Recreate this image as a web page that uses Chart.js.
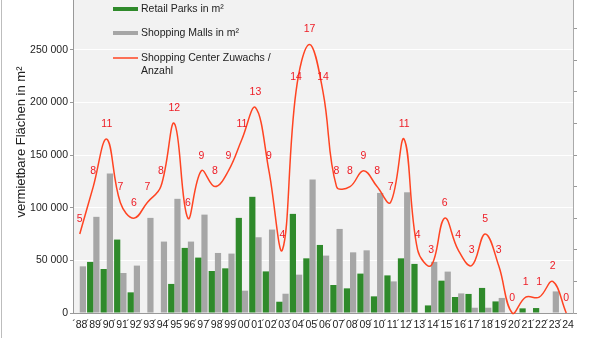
<!DOCTYPE html>
<html>
<head>
<meta charset="utf-8">
<script src="https://cdn.jsdelivr.net/npm/chart.js@4/dist/chart.umd.min.js"></script>
<style>
  html, body { margin: 0; padding: 0; background: #fff; }
  #wrap { position: relative; width: 600px; height: 338px; overflow: hidden; }
  #chart { position: absolute; left: 0; top: -3px; }
</style>
</head>
<body>
<div id="wrap"><canvas id="chart" width="600" height="341"></canvas></div>
<script>
// years 1988 - 2024
const years = ["´88","´89","´90","´91","´92","´93","´94","´95","´96","´97","´98","´99",
  "´00","´01","´02","´03","´04","´05","´06","´07","´08","´09","´10","´11","´12",
  "´13","´14","´15","´16","´17","´18","´19","´20","´21","´22","´23","´24"];

const retailParks = [0, 48500, 41800, 69700, 19600, 0, 0, 27600, 61800, 52600, 39900, 42400,
  90300, 110300, 39500, 10700, 94100, 51900, 64600, 26600, 23400, 37400, 15800, 35700, 51900,
  46600, 7200, 30700, 15200, 18100, 23800, 11000, 0, 4400, 4700, 0, 0];

const shoppingMalls = [44300, 91300, 132400, 38000, 45000, 90300, 67800, 108400, 67800, 93400, 57000, 56400,
  21200, 71900, 79200, 18300, 36400, 126700, 54500, 79800, 57600, 59500, 114000, 30000, 114600,
  0, 48500, 39300, 18600, 5000, 5000, 14300, 0, 0, 0, 20500, 0];

const centerCount = [5, 8, 11, 7, 6, 7, 8, 12, 6, 9, 8, 9,
  11, 13, 9, 4, 14, 17, 14, 8, 8, 9, 8, 7, 11,
  4, 3, 6, 4, 3, 5, 3, 0, 1, 1, 2, 0];

const leftTicks = [0, 50000, 100000, 150000, 200000, 250000, 300000];

const SHIFT = 3; // canvas sits 3px above the page
const FONT = '"Liberation Sans", Arial, sans-serif';

function fmt(v) {
  return String(v).replace(/\B(?=(\d{3})+(?!\d))/g, ' ');
}

function noPad(scale) {
  scale.paddingTop = 0;
  scale.paddingBottom = 0;
  scale.paddingLeft = 0;
  scale.paddingRight = 0;
}

const decor = {
  id: 'decor',
  beforeDraw(chart) {
    const { ctx, chartArea: a } = chart;
    ctx.save();
    ctx.fillStyle = '#f2f2f2';
    ctx.fillRect(a.left, a.top, a.right - a.left, a.bottom - a.top);
    ctx.strokeStyle = '#bdbdbd';
    ctx.lineWidth = 1;
    ctx.beginPath();
    ctx.moveTo(1.5, 0);
    ctx.lineTo(1.5, chart.height);
    ctx.stroke();
    ctx.restore();
  },
  afterDatasetsDraw(chart) {
    const ctx = chart.ctx;
    const meta = chart.getDatasetMeta(2);
    ctx.save();
    ctx.font = '10.5px ' + FONT;
    ctx.fillStyle = '#ee1c25';
    ctx.textAlign = 'center';
    ctx.textBaseline = 'middle';
    meta.data.forEach((pt, i) => {
      ctx.fillText(String(centerCount[i]), pt.x, pt.y - 15);
    });
    ctx.restore();
  },
  afterDraw(chart) {
    const ctx = chart.ctx;
    ctx.save();
    // y axis title
    ctx.font = '13px ' + FONT;
    ctx.fillStyle = '#222';
    ctx.textAlign = 'center';
    ctx.textBaseline = 'middle';
    ctx.translate(21, 142 + SHIFT);
    ctx.rotate(-Math.PI / 2);
    ctx.fillText('vermietbare Flächen in m²', 0, 0);
    ctx.restore();

    // legend
    ctx.save();
    ctx.font = '10.5px ' + FONT;
    ctx.textAlign = 'left';
    ctx.textBaseline = 'middle';
    ctx.fillStyle = '#2f8a2b';
    ctx.fillRect(113, 7 + SHIFT, 25, 4);
    ctx.fillStyle = '#a6a6a6';
    ctx.fillRect(113, 31 + SHIFT, 25, 4);
    ctx.strokeStyle = '#ff4422';
    ctx.lineWidth = 1.5;
    ctx.beginPath();
    ctx.moveTo(113, 58 + SHIFT);
    ctx.lineTo(138, 58 + SHIFT);
    ctx.stroke();
    ctx.fillStyle = '#222';
    ctx.fillText('Retail Parks in m²', 141, 9 + SHIFT);
    ctx.fillText('Shopping Malls in m²', 141, 33 + SHIFT);
    ctx.fillText('Shopping Center Zuwachs /', 141, 58 + SHIFT);
    ctx.fillText('Anzahl', 141, 71 + SHIFT);
    ctx.restore();
  }
};

new Chart(document.getElementById('chart'), {
  type: 'bar',
  data: {
    labels: years,
    datasets: [
      {
        label: 'Retail Parks in m²',
        data: retailParks,
        backgroundColor: '#2f8a2b',
        categoryPercentage: 0.92,
        barPercentage: 1.0,
        yAxisID: 'y',
        order: 2
      },
      {
        label: 'Shopping Malls in m²',
        data: shoppingMalls,
        backgroundColor: '#a6a6a6',
        categoryPercentage: 0.92,
        barPercentage: 1.0,
        yAxisID: 'y',
        order: 3
      },
      {
        type: 'line',
        label: 'Shopping Center Zuwachs / Anzahl',
        data: centerCount,
        borderColor: '#ff4422',
        borderWidth: 1.5,
        pointRadius: 0,
        tension: 0.4,
        capBezierPoints: false,
        clip: false,
        fill: false,
        yAxisID: 'y1',
        order: 1
      }
    ]
  },
  options: {
    responsive: false,
    animation: false,
    devicePixelRatio: 1,
    layout: { padding: 0 },
    plugins: {
      legend: { display: false },
      tooltip: { enabled: false }
    },
    scales: {
      x: {
        grid: { display: false, drawTicks: false },
        border: { color: '#999' },
        ticks: {
          autoSkip: false, maxRotation: 0, minRotation: 0, padding: 6,
          color: '#222', font: { family: FONT, size: 10.5 }
        },
        afterFit(scale) { scale.height = 25; noPad(scale); }
      },
      y: {
        position: 'left',
        min: leftTicks[0],
        max: leftTicks[leftTicks.length - 1],
        afterBuildTicks(scale) { scale.ticks = leftTicks.map(v => ({ value: v })); },
        grid: { color: '#ffffff', lineWidth: 1, tickColor: '#999', tickLength: 3 },
        border: { color: '#999' },
        ticks: {
          padding: 2, color: '#222', font: { family: FONT, size: 10.5 },
          callback: v => fmt(v)
        },
        afterFit(scale) { scale.width = 73; noPad(scale); }
      },
      y1: {
        position: 'right',
        min: 0,
        max: 20,
        ticks: { stepSize: 2, display: false },
        grid: { drawOnChartArea: false, tickColor: '#999', tickLength: 4 },
        border: { color: '#aaa' },
        afterFit(scale) { scale.width = 27; noPad(scale); }
      }
    }
  },
  plugins: [decor]
});
</script>
</body>
</html>
